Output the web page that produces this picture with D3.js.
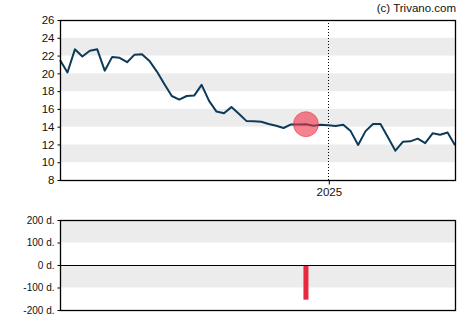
<!DOCTYPE html>
<html>
<head>
<meta charset="utf-8">
<script src="https://cdn.jsdelivr.net/npm/d3@7/dist/d3.min.js"></script>
<style>
  html, body { margin: 0; padding: 0; background: #fff; }
  svg { display: block; }
  text { font-family: "Liberation Sans", Arial, sans-serif; fill: #111; }
</style>
</head>
<body>
<script>
// Weekly closing prices
const startDate = "2024-04-24";
const prices = [
  21.5, 20.1, 22.7, 21.9, 22.55, 22.7, 20.3, 21.85, 21.75, 21.25,
  22.1, 22.15, 21.4, 20.2, 18.8, 17.45, 17.05, 17.45, 17.5, 18.7,
  16.9, 15.7, 15.5, 16.2, 15.45, 14.65, 14.6, 14.55, 14.3, 14.1,
  13.85, 14.25, 14.25, 14.28, 14.1, 14.22, 14.15, 14.08, 14.22, 13.5,
  11.94, 13.5, 14.3, 14.3, 12.8, 11.3, 12.3, 12.35, 12.65, 12.15,
  13.25, 13.1, 13.35, 11.9
];
const priceTicks = [8, 10, 12, 14, 16, 18, 20, 22, 24, 26];
const priceBands = [[10, 12], [14, 16], [18, 20], [22, 24]];
const yearTicks = ["2025-01-01"];

// Event marker (index into the weekly series) and its day offset
const eventIndex = 33;
const eventDays = [-154];
const dayTicks = [-200, -100, 0, 100, 200];
const dayBands = [[-100, 0], [100, 200]];

const W = 470, H = 325;
const parse = d3.utcParse("%Y-%m-%d");
const t0 = parse(startDate);
const dates = prices.map((_, i) => d3.utcDay.offset(t0, i * 7));
const series = prices.map((v, i) => ({ date: dates[i], value: v }));

const svg = d3.select("body").append("svg").attr("width", W).attr("height", H);

const left = 60, right = 455;
const x = d3.scaleUtc().domain([dates[0], dates[dates.length - 1]]).range([left, right]);

// ---------- Price panel ----------
const top1 = 20, bot1 = 180;
const y = d3.scaleLinear().domain([8, 26]).range([bot1, top1]);

svg.append("g").selectAll("rect").data(priceBands).join("rect")
  .attr("x", left).attr("width", right - left)
  .attr("y", d => y(d[1])).attr("height", d => y(d[0]) - y(d[1]))
  .attr("fill", "#ececec");

// Year marker
svg.append("g").selectAll("line").data(yearTicks.map(parse)).join("line")
  .attr("x1", d => Math.round(x(d)) + 0.5).attr("x2", d => Math.round(x(d)) + 0.5)
  .attr("y1", top1).attr("y2", bot1)
  .attr("stroke", "#000").attr("stroke-width", 1).attr("stroke-dasharray", "1,2");

const line = d3.line().x(d => x(d.date)).y(d => y(d.value));
svg.append("path").datum(series)
  .attr("d", line).attr("fill", "none")
  .attr("stroke", "#0e3a5a").attr("stroke-width", 2).attr("stroke-linejoin", "round");

// Event circle on the price line
const ev = series[eventIndex];
svg.append("circle")
  .attr("cx", x(ev.date)).attr("cy", y(ev.value)).attr("r", 12.5)
  .attr("fill", "rgba(238, 50, 70, 0.6)").attr("stroke", "rgba(230, 40, 60, 0.5)").attr("stroke-width", 1);

// Frame
svg.append("rect").attr("x", left + 0.5).attr("y", top1 + 0.5)
  .attr("width", right - left).attr("height", bot1 - top1)
  .attr("fill", "none").attr("stroke", "#000").attr("stroke-width", 1.3);

const yAxis = d3.axisLeft(y).tickValues(priceTicks).tickSize(3).tickPadding(3);
const gy = svg.append("g").attr("transform", `translate(${left + 0.5},0)`).call(yAxis);
gy.select(".domain").remove();
gy.selectAll("line").attr("stroke", "#000");
gy.selectAll("text").style("font-size", "11.5px").attr("fill", "#111");

const xAxis = d3.axisBottom(x).tickValues(yearTicks.map(parse)).tickFormat(d3.utcFormat("%Y")).tickSize(4).tickPadding(3);
const gx = svg.append("g").attr("transform", `translate(0.5,${bot1 + 0.5})`).call(xAxis);
gx.select(".domain").remove();
gx.selectAll("line").attr("stroke", "#000");
gx.selectAll("text").style("font-size", "11.5px").attr("fill", "#111");

svg.append("text").attr("x", right + 1).attr("y", 12)
  .attr("text-anchor", "end").style("font-size", "11.5px").attr("fill", "#222")
  .text("(c) Trivano.com");

// ---------- Day-offset panel ----------
const top2 = 220, bot2 = 310;
const y2 = d3.scaleLinear().domain([-200, 200]).range([bot2, top2]);

svg.append("g").selectAll("rect").data(dayBands).join("rect")
  .attr("x", left).attr("width", right - left)
  .attr("y", d => y2(d[1])).attr("height", d => y2(d[0]) - y2(d[1]))
  .attr("fill", "#ececec");

svg.append("g").selectAll("rect").data(eventDays).join("rect")
  .attr("x", x(ev.date) - 2.5).attr("width", 5)
  .attr("y", d => y2(Math.max(0, d))).attr("height", d => Math.abs(y2(d) - y2(0)))
  .attr("fill", "#e8283f");

svg.append("line").attr("x1", left).attr("x2", right)
  .attr("y1", y2(0) + 0.5).attr("y2", y2(0) + 0.5)
  .attr("stroke", "#000").attr("stroke-width", 1.2);

svg.append("rect").attr("x", left + 0.5).attr("y", top2 + 0.5)
  .attr("width", right - left).attr("height", bot2 - top2)
  .attr("fill", "none").attr("stroke", "#000").attr("stroke-width", 1.3);

const y2Axis = d3.axisLeft(y2).tickValues(dayTicks).tickFormat(d => `${d} d.`).tickSize(3).tickPadding(3);
const gy2 = svg.append("g").attr("transform", `translate(${left + 0.5},0)`).call(y2Axis);
gy2.select(".domain").remove();
gy2.selectAll("line").attr("stroke", "#000");
gy2.selectAll("text").style("font-size", "10px").attr("fill", "#111");
</script>
</body>
</html>
